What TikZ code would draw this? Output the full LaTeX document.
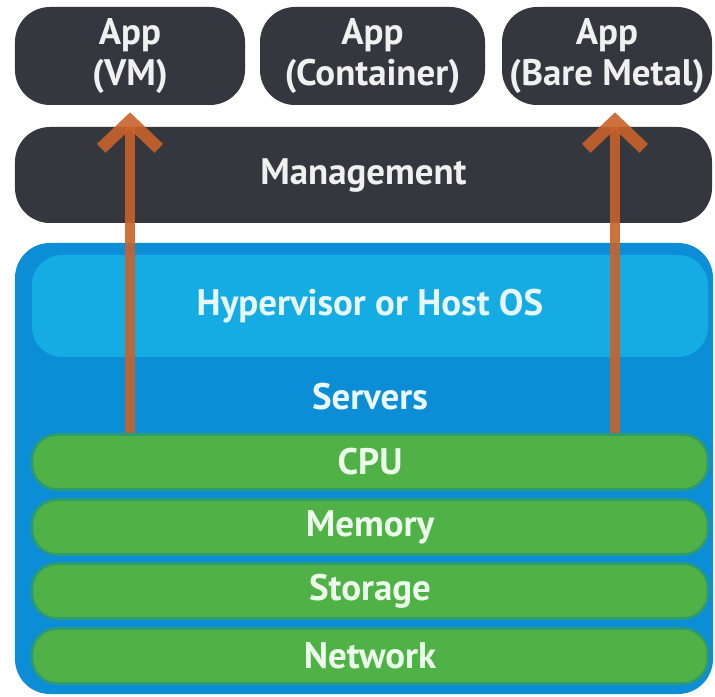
\documentclass[tikz,border=0pt]{standalone}
\usepackage{fontspec}
\setmainfont{PT Sans}
\usetikzlibrary{arrows.meta}

\definecolor{appdark}{HTML}{35373F}
\definecolor{hostblue}{HTML}{0C8ED6}
\definecolor{hyperblue}{HTML}{14ACE3}
\definecolor{resgreen}{HTML}{50B147}
\definecolor{resedge}{HTML}{2C9B72}
\definecolor{linkorange}{HTML}{C8622A}

\begin{document}
\begin{tikzpicture}[
    x = 0.2mm,
    y = -0.2mm,
    font = \bfseries\fontsize{21}{23}\selectfont,
    layer/.style = {
      rounded corners = 7mm,
      inner sep = 0pt,
      align = center
    },
    appbox/.style = {
      layer,
      fill = appdark,
      text = white!94!black,
      minimum height = 19.6mm
    },
    resbar/.style = {
      layer,
      fill = resgreen,
      draw = resedge,
      line width = 1.5pt,
      rounded corners = 5mm,
      text = green!8!white,
      minimum width = 135.2mm,
      minimum height = 11mm
    },
    uparrow/.style = {
      linkorange,
      opacity = .9,
      line width = 6pt,
      -{Straight Barb[length=5.5mm,width=11.5mm,line width=7pt]}
    }
  ]
% frame
\useasboundingbox (0,0) rectangle (715,697);

% host
\node[layer, fill=hostblue, minimum width=139.6mm, minimum height=90.2mm] (host) at (364,468.5) {};
\node[layer, fill=hyperblue, rounded corners=6mm, text=cyan!10!white,
      minimum width=135.2mm, minimum height=20.4mm] (hyper) at (370,306) {Hypervisor or Host OS};
\node[text=white!92!cyan] (servers) at (370,397) {Servers};

% resources
\node[resbar] (cpu)     at (370,462) {CPU};
\node[resbar] (memory)  at (370,527) {Memory};
\node[resbar] (storage) at (370,591) {Storage};
\node[resbar] (network) at (370,656) {Network};

% apps
\node[appbox, minimum width=46mm] (vm) at (130,56) {App\\(VM)};
\node[appbox, minimum width=45mm] (container) at (372.5,56) {App\\(Container)};
\node[appbox, minimum width=42mm] (bm) at (607,56) {App\\(Bare Metal)};
\node[appbox, minimum width=139.4mm, minimum height=19.2mm] (mgmt) at (363.5,175) {Management};

% links
\draw[uparrow] (cpu.north -| vm.south) -- ([yshift=-1.4mm]vm.south);
\draw[uparrow] ([xshift=1.6mm]cpu.north -| bm.south) -- ([xshift=1.6mm,yshift=-1.4mm]bm.south);

\end{tikzpicture}
\end{document}
